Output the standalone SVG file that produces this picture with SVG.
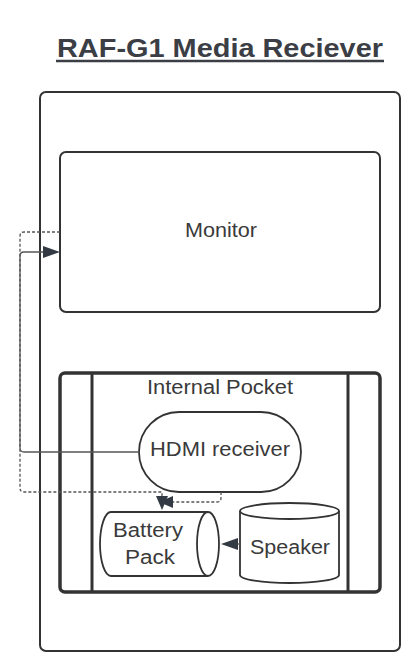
<svg xmlns="http://www.w3.org/2000/svg" width="419" height="659" viewBox="0 0 419 659">
<style>
.box{fill:#fff;stroke:#333;stroke-width:2}
.thick{fill:none;stroke:#333;stroke-width:3.5}
.shape{fill:#fff;stroke:#333;stroke-width:1.8}
.lbl{font-family:"Liberation Sans",Arial,sans-serif;font-size:19.5px;fill:#3a3a3a}
.conn{fill:none;stroke:#555;stroke-width:1.3}
.dash{stroke-dasharray:3 2}
.ah{fill:#333a44;stroke:none}
</style>
<rect width="419" height="659" fill="#fff"/>
<g id="title">
<text x="57" y="57" textLength="326" lengthAdjust="spacingAndGlyphs" style="font-family:'Liberation Sans',Arial,sans-serif;font-size:26.5px;font-weight:bold;fill:#3b3e45">RAF-G1 Media Reciever</text>
<line x1="56" y1="61" x2="384" y2="61" stroke="#3b3e45" stroke-width="2.4"/>
</g>
<g id="device">
<rect class="box" x="40" y="92" width="360" height="559" rx="6"/>
</g>
<g id="monitor">
<rect class="box" x="60" y="152" width="320" height="160" rx="6"/>
<text class="lbl" x="185" y="237" textLength="72" lengthAdjust="spacingAndGlyphs">Monitor</text>
</g>
<g id="internal-pocket">
<rect class="thick" x="60" y="373" width="320" height="219" rx="5"/>
<line x1="92" y1="373" x2="92" y2="592" stroke="#333" stroke-width="3"/>
<line x1="348" y1="373" x2="348" y2="592" stroke="#333" stroke-width="3"/>
<text class="lbl" x="147" y="394" textLength="146" lengthAdjust="spacingAndGlyphs">Internal Pocket</text>
</g>
<g id="hdmi-receiver">
<rect class="shape" x="139" y="412" width="162" height="80" rx="40"/>
<text class="lbl" x="150" y="456" textLength="140" lengthAdjust="spacingAndGlyphs">HDMI receiver</text>
</g>
<g id="battery-pack">
<path class="shape" d="M208 512 L111 512 A11 32 0 0 0 111 576 L208 576"/>
<ellipse class="shape" cx="208" cy="544" rx="11" ry="32"/>
<text class="lbl" x="113" y="537" textLength="70" lengthAdjust="spacingAndGlyphs">Battery</text>
<text class="lbl" x="125" y="564" textLength="50" lengthAdjust="spacingAndGlyphs">Pack</text>
</g>
<g id="speaker">
<path class="shape" d="M240 511 L240 575 A49.5 8 0 0 0 339 575 L339 511"/>
<ellipse class="shape" cx="289.5" cy="511" rx="49.5" ry="8"/>
<text class="lbl" x="250" y="554" textLength="80" lengthAdjust="spacingAndGlyphs">Speaker</text>
</g>
<g id="connectors">
<path class="conn" d="M139 452 L24 452 Q20 452 20 448 L20 256 Q20 252 24 252 L44 252"/>
<polygon class="ah" points="60,252 43,246 43,258"/>
<path class="conn dash" d="M60 232 L24 232 Q20 232 20 236 L20 488 Q20 492 24 492 L162 492 L162 496"/>
<polygon class="ah" points="162,510 156,496 168,496"/>
<path class="conn dash" d="M221 492 L221 498 Q221 502 217 502 L172 502"/>
<polygon class="ah" points="159,502 173,496 173,508"/>
<path class="conn" d="M240 544 L236 544"/>
<polygon class="ah" points="221,544 238,538 238,550"/>
</g>
</svg>
